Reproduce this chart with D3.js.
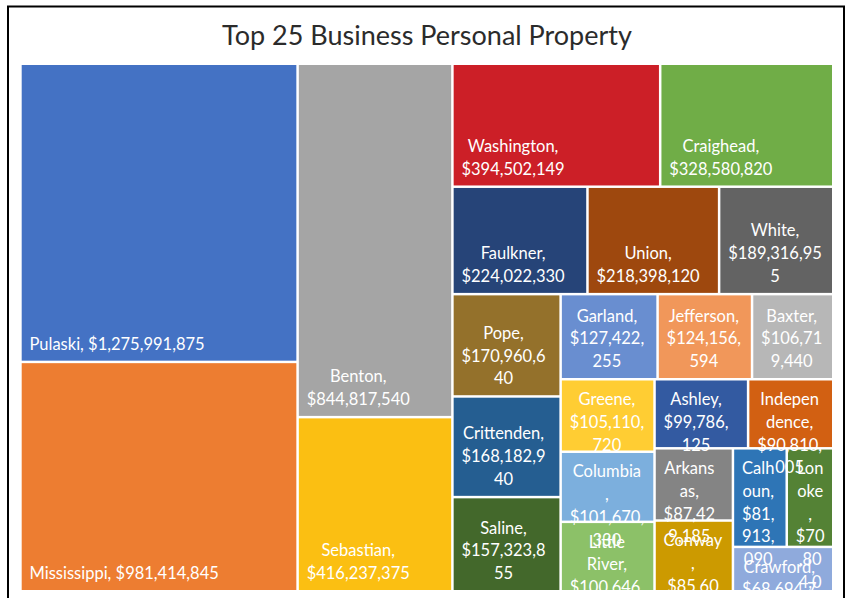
<!DOCTYPE html>
<html><head><meta charset="utf-8">
<script src="https://cdn.jsdelivr.net/npm/d3@7"></script>
<style>body{margin:0;background:#fff;} svg{display:block;}</style>
</head><body>
<svg id="chart" width="851" height="598"></svg>
<script>
// ---- data ----
const title = "Top 25 Business Personal Property";
const counties = ["Pulaski","Mississippi","Benton","Sebastian","Washington","Craighead",
  "Faulkner","Union","White","Pope","Crittenden","Saline","Garland","Jefferson","Baxter",
  "Greene","Columbia","Little River","Ashley","Independence","Arkansas","Conway",
  "Calhoun","Lonoke","Crawford"];
const values = [1275991875, 981414845, 844817540, 416237375, 394502149, 328580820,
  224022330, 218398120, 189316955, 170960640, 168182940, 157323855, 127422255, 124156594,
  106719440, 105110720, 101670330, 100646250, 99786125, 90810005, 87429185, 85604310,
  81913090, 70804020, 68694715];
const colors = ["#4472C4","#ED7D31","#A5A5A5","#FBBF12","#CC1F27","#70AD47",
  "#264478","#9E480E","#636363","#94712B","#255E91","#43682B","#698ED0","#F1975A","#B7B7B7",
  "#FFCD33","#7CAFDD","#8CC168","#335AA1","#D26012","#848484","#CC9A00",
  "#2E75B6","#548235","#8FAADC"];

// ---- setup ----
const W = 851, H = 598;
const svg = d3.select("#chart");
svg.append("rect").attr("width", W).attr("height", H).attr("fill", "#fff");
svg.append("rect").attr("x", 8).attr("y", 6.5).attr("width", 836).attr("height", 620)
  .attr("fill", "none").attr("stroke", "#000").attr("stroke-width", 2);
svg.append("text").attr("x", 427).attr("y", 45).attr("text-anchor", "middle")
  .attr("font-family", "Lato, sans-serif").attr("font-size", 27).attr("fill", "#2b2b2b")
  .text(title);

const plot = {x: 21.7, y: 65, w: 810.3, h: 525};

// squarified tiling, extending a row while the newest cell's aspect ratio does not get worse
const TOL = 1.2;
function rowSquarify(parent, x0, y0, x1, y1) {
  const nodes = parent.children, n = nodes.length;
  let value = parent.value, i0 = 0;
  while (i0 < n) {
    const dx = x1 - x0, dy = y1 - y0;
    const across = dx < dy;
    const side = across ? dx : dy, depth = across ? dy : dx;
    const ratio = (sum, v) => { const t = depth * sum / value, len = side * v / sum; return Math.max(t / len, len / t); };
    let sum = nodes[i0].value, i1 = i0 + 1, last = ratio(sum, sum);
    while (i1 < n) {
      const v = nodes[i1].value, r = ratio(sum + v, v);
      if (r > last * TOL) break;
      sum += v; last = r; i1++;
    }
    const row = {value: sum, children: nodes.slice(i0, i1)};
    if (across) { const yy = y0 + dy * sum / value; d3.treemapDice(row, x0, y0, x1, yy); y0 = yy; }
    else { const xx = x0 + dx * sum / value; d3.treemapSlice(row, x0, y0, xx, y1); x0 = xx; }
    value -= sum; i0 = i1;
  }
}

const data = counties.map((name, i) => ({name, value: values[i], color: colors[i]}));
const root = d3.hierarchy({children: data}).sum(d => d.value || 0).sort((a, b) => b.value - a.value);
d3.treemap().tile(rowSquarify).size([plot.w, plot.h]).paddingInner(2.5)(root);
const leaves = root.leaves();

const g = svg.append("g").attr("transform", `translate(${plot.x},${plot.y})`);
g.selectAll("rect.cell").data(leaves).join("rect").attr("class", "cell")
  .attr("x", d => d.x0).attr("y", d => d.y0)
  .attr("width", d => d.x1 - d.x0).attr("height", d => d.y1 - d.y0)
  .attr("fill", d => d.data.color);

// ---- labels (Excel-like wrapping, Calibri metrics) ----
const CAL = {' ':463,'$':1038,',':511,'A':1185,'B':1114,'C':1092,'F':941,'G':1292,'I':516,'J':653,
  'L':861,'M':1751,'P':1058,'R':1112,'S':941,'U':1313,'W':1828,'a':981,'b':1076,'c':866,'d':1076,
  'e':1019,'f':625,'g':964,'h':1076,'i':470,'k':931,'l':470,'m':1636,'n':1076,'o':1080,'p':1076,
  'r':714,'s':801,'t':686,'u':1076,'v':925,'w':1464,'x':887,'y':927};
const KERN = {"wa": -45, "ay": -45};
const FS = 18.67, PAD = 7.8, LH = 22.8;
const calW = s => {
  let u = 0, prev = "";
  for (const ch of s) {
    u += CAL[ch] ?? (/\d/.test(ch) ? 1038 : 1000);
    u += KERN[prev + ch] || 0;
    prev = ch;
  }
  return u / 2048 * FS;
};
function wrap(text, maxW) {
  const words = text.split(" "), lines = [];
  let cur = "";
  for (const word of words) {
    const cand = cur ? cur + " " + word : word;
    if (calW(cand) <= maxW) { cur = cand; continue; }
    if (cur) { lines.push(cur); cur = ""; }
    if (calW(word) <= maxW) { cur = word; continue; }
    let piece = "";
    for (const ch of word) {
      if (piece === "" || calW(piece + ch) <= maxW) piece += ch;
      else { lines.push(piece); piece = ch; }
    }
    cur = piece;
  }
  if (cur) lines.push(cur);
  return lines;
}

svg.append("clipPath").attr("id", "plotClip").append("rect")
  .attr("x", 0).attr("y", 0).attr("width", plot.w).attr("height", plot.h);
const fmt = d3.format("$,");
const lg = g.append("g").attr("clip-path", "url(#plotClip)");
leaves.forEach(d => {
  const label = `${d.data.name}, ${fmt(d.data.value)}`;
  const lines = wrap(label, (d.x1 - d.x0) - 2 * PAD);
  const n = lines.length;
  const lastB = d.y1 - 10.8;
  let first = lastB - (n - 1) * LH;
  if (first < d.y0 + 24.5) first = d.y0 + 24.5;
  const t = lg.append("text").attr("font-family", "Lato, sans-serif").attr("font-size", 16.5)
    .attr("fill", "#fff");
  const spans = lines.map((ln, i) => t.append("tspan").attr("y", first + i * LH).attr("x", 0).text(ln));
  const widths = spans.map(s => s.node().getComputedTextLength());
  const bw = d3.max(widths);
  const cx = d.x0 + PAD + bw / 2;
  t.attr("text-anchor", "middle");
  spans.forEach(s => s.attr("x", cx));
});
</script>
</body></html>
